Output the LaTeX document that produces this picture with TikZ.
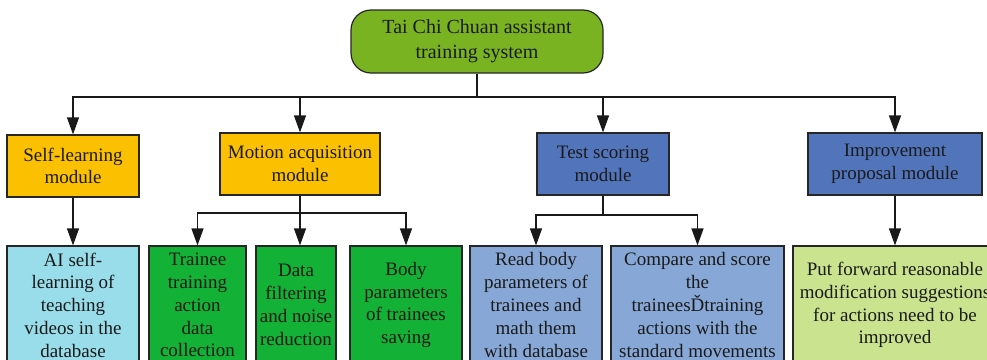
\documentclass[tikz,border=0pt]{standalone}
\usepackage{fontspec}
\setmainfont{Liberation Serif}
\usetikzlibrary{arrows.meta}
\definecolor{rootc}{HTML}{7AB322}
\definecolor{modc}{HTML}{FBC000}
\definecolor{bluec}{HTML}{5274BA}
\definecolor{cyanc}{HTML}{98DDE9}
\definecolor{greenc}{HTML}{13B135}
\definecolor{lbluec}{HTML}{87A8D6}
\definecolor{lgreenc}{HTML}{C9E38F}
\definecolor{txtc}{HTML}{1A1A1A}
\tikzset{
  box/.style={draw=black!85, line width=1.2pt, inner sep=0pt, align=center,
    text=txtc, font=\fontsize{19}{22.8}\selectfont},
  conn/.style={line width=1.2pt, draw=black!90, -{Triangle[length=17pt,width=12pt]}},
  plain/.style={line width=1.2pt, draw=black!90}
}
\begin{document}
\begin{tikzpicture}[x=1pt,y=-1pt]
\useasboundingbox (0,0) rectangle (987,359);
\clip (0,0) rectangle (987,359);
\node[box, fill=rootc, rounded corners=20pt, minimum width=252pt, minimum height=63pt, font=\fontsize{20}{25}\selectfont] (root) at (477,41.5) {Tai Chi Chuan assistant\\training system};
\node[box, fill=modc, minimum width=132pt, minimum height=62pt] (sl) at (73,166) {Self-learning\\module};
\node[box, fill=modc, minimum width=160pt, minimum height=62pt] (ma) at (300,164) {Motion acquisition\\module};
\node[box, fill=bluec, minimum width=132pt, minimum height=62pt] (ts) at (603,164) {Test scoring\\module};
\node[box, fill=bluec, minimum width=174pt, minimum height=62pt] (ip) at (895,164) {Improvement\\proposal module};
\node[box, fill=cyanc, minimum width=132pt, minimum height=118pt] (ai) at (73,305) {AI self-\\learning of\\teaching\\videos in the\\database};
\node[box, fill=greenc, minimum width=97pt, minimum height=118pt] (tr) at (197.5,305) {Trainee\\training\\action\\data\\collection};
\node[box, fill=greenc, minimum width=80pt, minimum height=118pt] (df) at (296,305) {Data\\filtering\\and noise\\reduction};
\node[box, fill=greenc, minimum width=112pt, minimum height=118pt] (bp) at (406,305) {Body\\parameters\\of trainees\\saving};
\node[box, fill=lbluec, minimum width=132pt, minimum height=118pt] (rb) at (536,305) {Read body\\parameters of\\trainees and\\math them\\with database};
\node[box, fill=lbluec, minimum width=173pt, minimum height=118pt] (cs) at (697.5,305) {Compare and score\\the\\traineesĎtraining\\actions with the\\standard movements};
\node[box, fill=lgreenc, minimum width=204pt, minimum height=118pt] (pf) at (895,305) {Put forward reasonable\\modification suggestions\\for actions need to be\\improved};
\coordinate (j1) at (477,97);
\coordinate (j2) at (300,213);
\coordinate (j3) at (603,215);
\draw[plain] (root.south) -- (j1);
\draw[conn] (j1) -| (sl.north);
\draw[conn] (j1) -| (ma.north);
\draw[conn] (j1) -| (ts.north);
\draw[conn] (j1) -| (ip.north);
\draw[conn] (sl.south) -- (ai.north);
\draw[plain] (ma.south) -- (j2);
\draw[conn] (j2) -| (tr.north);
\draw[conn] (j2) -- (df.north -| j2);
\draw[conn] (j2) -| (bp.north);
\draw[plain] (ts.south) -- (j3);
\draw[conn] (j3) -| (rb.north);
\draw[conn] (j3) -| (cs.north);
\draw[conn] (ip.south) -- (pf.north);
\end{tikzpicture}
\end{document}
